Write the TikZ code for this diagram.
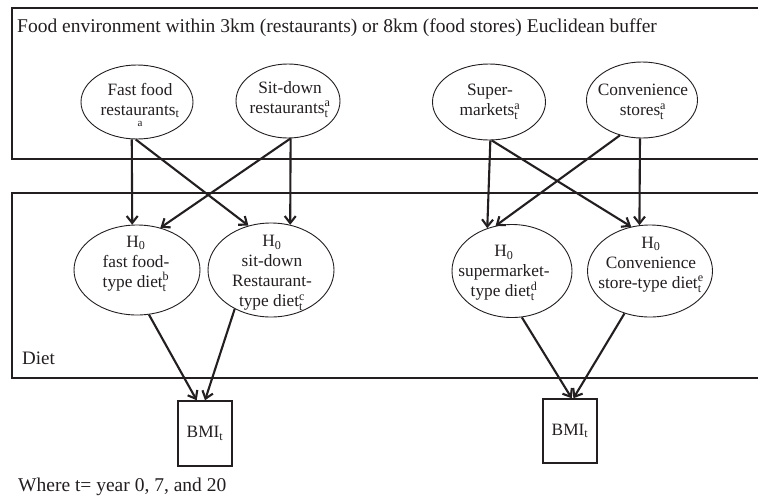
\documentclass[tikz,border=0pt]{standalone}
\usepackage{fontspec}
\usepackage{amsmath}
\setmainfont{Liberation Serif}
\usetikzlibrary{arrows.meta,shapes.geometric}
\definecolor{ink}{HTML}{231F20}
\begin{document}
\begin{tikzpicture}[x=1pt,y=-1pt,
  oval/.style={ellipse, draw=ink, line width=0.9pt, inner sep=0pt},
  lbl/.style={align=center, inner sep=0pt, anchor=north, text=ink, font=\fontsize{17.3}{20}\selectfont},
  big/.style={inner sep=0pt, anchor=base west, text=ink, font=\fontsize{19.5}{23}\selectfont},
  frame/.style={draw=ink, line width=1.6pt, anchor=north west, inner sep=0pt, outer sep=0pt},
  bmibox/.style={draw=ink, line width=1.5pt, inner sep=0pt, minimum width=54pt, minimum height=65pt, text=ink, font=\fontsize{17.3}{20}\selectfont},
  arr/.style={draw=ink, line width=2.1pt, -{Straight Barb[length=7pt,width=11pt]}}
]
\useasboundingbox (0,0) rectangle (758,496);
\clip (0,0) rectangle (758,496);
\fill[white] (0,0) rectangle (758,496);

% frames
\node[frame, minimum width=770pt, minimum height=151pt] (envbox) at (12,8) {};
\node[frame, minimum width=770pt, minimum height=185pt] (dietbox) at (12,193) {};

% texts
\node[big] (title) at (17,32) {Food environment within 3km (restaurants) or 8km (food stores) Euclidean buffer};
\node[big, font=\fontsize{19}{23}\selectfont] (diet) at (22,364) {Diet};
\node[big] (note) at (18,491) {Where t= year 0, 7, and 20};

% food environment ellipses
\node[oval, minimum width=112pt, minimum height=74pt] (ff) at (137,102) {};
\node[oval, minimum width=104pt, minimum height=74pt] (sd) at (288,101) {};
\node[oval, minimum width=113pt, minimum height=76pt] (sm) at (489,102) {};
\node[oval, minimum width=111pt, minimum height=76pt] (cv) at (642,100) {};

\node[lbl] (fft) at (140,83) {Fast food\\restaurants$_{\text{t}}$\\[-9pt]{\fontsize{11}{11}\selectfont a}};
\node[lbl] (sdt) at (290,81) {Sit-down\\restaurants$^{\text{a}}_{\text{t}}$};
\node[lbl] (smt) at (490,84) {Super-\\markets$^{\text{a}}_{\text{t}}$};
\node[lbl] (cvt) at (643,84) {Convenience\\stores$^{\text{a}}_{\text{t}}$};

% diet ellipses
\node[oval, minimum width=126pt, minimum height=90pt] (ffd) at (137,270) {};
\node[oval, minimum width=126pt, minimum height=94pt] (sdd) at (271,270) {};
\node[oval, minimum width=120pt, minimum height=93pt] (smd) at (512,271) {};
\node[oval, minimum width=125pt, minimum height=92pt] (cvd) at (650,271) {};

\node[lbl] (ffdt) at (136,235.5) {H\textsubscript{0}\\fast food-\\type diet$^{\text{b}}_{\text{t}}$};
\node[lbl] (sddt) at (272,235) {H\textsubscript{0}\\sit-down\\Restaurant-\\type diet$^{\text{c}}_{\text{t}}$};
\node[lbl] (smdt) at (504,245) {H\textsubscript{0}\\supermarket-\\type diet$^{\text{d}}_{\text{t}}$};
\node[lbl] (cvdt) at (651,236.5) {H\textsubscript{0}\\Convenience\\store-type diet$^{\text{e}}_{\text{t}}$};

% BMI boxes
\node[bmibox] (bmi1) at (205,433.5) {BMI\textsubscript{t}};
\node[bmibox, minimum height=64pt] (bmi2) at (570,431) {BMI\textsubscript{t}};

% arrows: environment -> diet
\draw[arr] (ff.-98) -- (ffd.96);
\draw[arr] (ff.-92) -- (sdd.117);
\draw[arr] (sd.-86) -- (ffd.61);
\draw[arr] (sd.-86) -- (sdd.67);
\draw[arr] (sm.-88) -- (smd.120);
\draw[arr] (sm.-86) -- (cvd.113);
\draw[arr] (cv.-122) -- (smd.110);
\draw[arr] (cv.-93) -- (cvd.103);

% arrows: diet -> BMI
\draw[arr] (ffd.-75) -- (bmi1.104);
\draw[arr] (sdd.-133) -- (bmi1.north);
\draw[arr] (smd.-78) -- (bmi2.87);
\draw[arr] (cvd.-121) -- (bmi2.84);
\end{tikzpicture}
\end{document}
